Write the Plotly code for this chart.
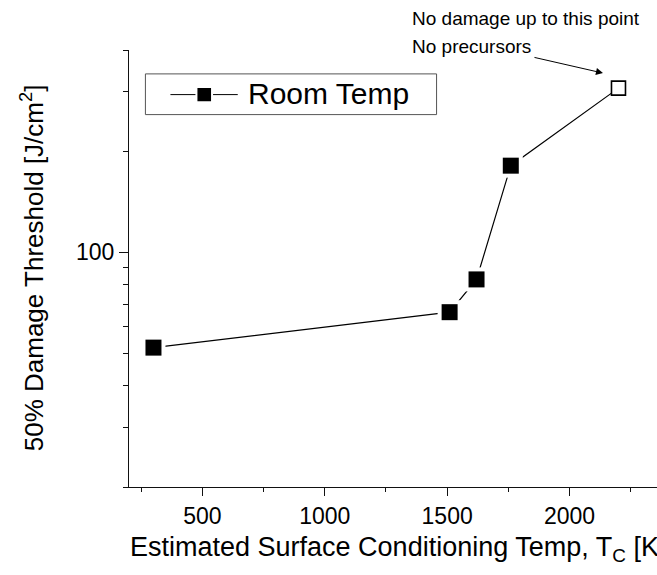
import plotly.graph_objects as go
import numpy as np

# Data
temps = [300, 1510, 1620, 1760, 2200]
thresholds = [52, 66.3, 83, 181, 308]
series_name = "Room Temp"
x_tick_vals = [500, 1000, 1500, 2000]
y_tick_vals = [100]
y_minor_vals = [20, 30, 40, 50, 60, 70, 80, 90, 200, 300, 400]

FONT = "Liberation Sans, Arial, sans-serif"
W, H = 657, 575
ml, mr, mt, mb = 129.3, 0, 50.4, 87.6
PW, PH = W - ml - mr, H - mt - mb


def px(x):
    return (x - ml) / PW


def py(y):
    return 1 - (y - mt) / PH


fig = go.Figure()
# connecting line
fig.add_trace(go.Scatter(x=temps, y=thresholds, mode="lines",
                         line=dict(color="black", width=1.2),
                         showlegend=False, hoverinfo="skip"))
# white halo to leave a gap between line and filled markers
fig.add_trace(go.Scatter(x=temps, y=thresholds, mode="markers", showlegend=False,
                         hoverinfo="skip",
                         marker=dict(symbol="square", size=[24, 24, 24, 24, 0],
                                     color="white", opacity=1, line=dict(width=0))))
# markers (last one open: no damage)
fig.add_trace(go.Scatter(
    x=temps, y=thresholds, mode="markers", showlegend=False,
    marker=dict(symbol="square", size=[16, 16, 16, 16, 14], opacity=1,
                color=["#000000"] * 4 + ["#ffffff"],
                line=dict(color="#000000", width=[0, 0, 0, 0, 1.6]))))

fig.update_layout(
    width=W, height=H, autosize=False,
    margin=dict(l=ml, r=mr, t=mt, b=mb, pad=0),
    paper_bgcolor="white", plot_bgcolor="white",
    font=dict(family=FONT, size=23, color="black"),
    showlegend=False,
    xaxis=dict(range=[200, 200 + PW / 0.2446], showgrid=False, zeroline=False,
               showline=True, linecolor="#111", linewidth=1.2,
               ticks="outside", ticklen=8, tickwidth=1.2, tickcolor="#111",
               tickvals=x_tick_vals, tickfont=dict(size=23),
               minor=dict(ticks="outside", ticklen=4, tickwidth=1.2, tickcolor="#111",
                          tick0=0, dtick=250, showgrid=False)),
    yaxis=dict(type="log", range=[np.log10(20), np.log10(400)], showgrid=False,
               zeroline=False, showline=True, linecolor="#111", linewidth=1.2,
               ticks="outside", ticklen=9, tickwidth=1.2, tickcolor="#111",
               tickvals=y_tick_vals, ticktext=["100"], tickfont=dict(size=23),
               minor=dict(ticks="outside", ticklen=5, tickwidth=1.2, tickcolor="#111",
                          tickvals=y_minor_vals, showgrid=False)),
)

# manual legend box
fig.add_shape(type="rect", xref="paper", yref="paper",
              x0=px(145.7), x1=px(436.7), y0=py(115), y1=py(74.3),
              line=dict(color="#555555", width=1), fillcolor="white", layer="above")
fig.add_shape(type="line", xref="paper", yref="paper",
              x0=px(170.7), x1=px(238), y0=py(95), y1=py(95),
              line=dict(color="black", width=1), layer="above")
fig.add_shape(type="rect", xref="paper", yref="paper",
              x0=px(196.7), x1=px(212.3), y0=py(102.7), y1=py(87.3),
              line=dict(color="white", width=2), fillcolor="black", layer="above")
fig.add_annotation(xref="paper", yref="paper", x=px(246), y=py(94),
                   xanchor="left", yanchor="middle", showarrow=False,
                   text=series_name, font=dict(size=30))

# axis titles
fig.add_annotation(xref="paper", yref="paper", x=px(128), y=py(549),
                   xanchor="left", yanchor="middle", showarrow=False,
                   text="Estimated Surface Conditioning Temp, T<sub>C</sub> [K]",
                   font=dict(size=27))
fig.add_annotation(xref="paper", yref="paper", x=px(33), y=py(268),
                   xanchor="center", yanchor="middle", showarrow=False, textangle=-90,
                   text="50% Damage Threshold [J/cm<sup>2</sup>]",
                   font=dict(size=26))

# note + arrow
fig.add_annotation(xref="paper", yref="paper", x=px(410), y=py(19),
                   xanchor="left", yanchor="middle", showarrow=False,
                   text="No damage up to this point", font=dict(size=19))
fig.add_annotation(xref="paper", yref="paper", x=px(410), y=py(47),
                   xanchor="left", yanchor="middle", showarrow=False,
                   text="No precursors", font=dict(size=19))
fig.add_annotation(x=200 + (603 - ml) / 0.2446,
                   y=2 + (252.7 - 73.5) / 336, xref="x", yref="y",
                   ax=-70, ay=-16, axref="pixel", ayref="pixel",
                   showarrow=True, arrowhead=2, arrowsize=1.4, arrowwidth=1,
                   arrowcolor="black", standoff=0, text="")

fig.write_html("out.html")
